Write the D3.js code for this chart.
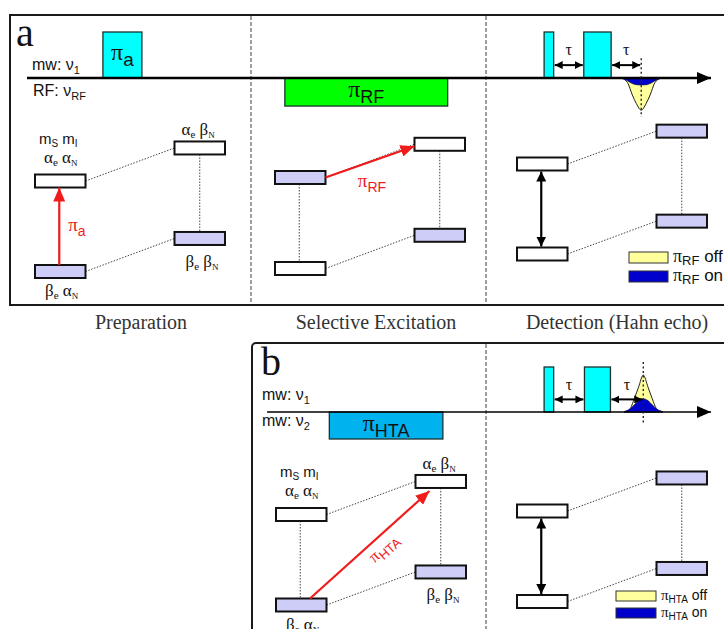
<!DOCTYPE html>
<html>
<head>
<meta charset="utf-8">
<script src="https://cdn.jsdelivr.net/npm/d3@7"></script>
<style>
  body { margin: 0; background: #fff; }
  svg { display: block; }
</style>
</head>
<body>
<svg id="chart" width="724" height="629"></svg>
<script>
// ---- Sequence stages -------------------------------------------------------
const stageNames = ["Preparation", "Selective Excitation", "Detection (Hahn echo)"];

// ---- Spin states: relative energy (0 = βe αN, 1 = αe αN) and column side ----
const states      = ["aa", "ba", "ab", "bb"];          // αeαN, βeαN, αeβN, βeβN
const stateEnergy = [1, 0, 1.365, 0.365];
const stateSide   = [0, 0, 1, 1];

// Populated (shaded) levels per stage, in state order
const populationA = [[0, 1, 0, 1], [1, 0, 0, 1], [0, 0, 1, 1]];
const populationB = [[0, 1, 0, 1], [0, 0, 1, 1]];

// ---- Pulse sequences (time in arbitrary units, amplitude relative to mw) ----
const pulseNameA  = ["a", "RF", "", ""];
const pulseStartA = [11.1, 37.7, 75.6, 81.4];
const pulseEndA   = [16.8, 61.5, 77.0, 85.4];
const pulseAmpA   = [1, -0.61, 1, 1];

const pulseNameB  = ["HTA", "", ""];
const pulseStartB = [44.2, 75.6, 81.5];
const pulseEndB   = [60.8, 77.0, 85.3];
const pulseAmpB   = [-0.6, 1, 1];

// ---- Echo profiles (offset from echo time vs. amplitude) --------------------
const echoOffset = [-2.8, -2, -1.3, -0.7, 0, 0.7, 1.3, 2, 2.8];
const echoTimeA  = 89.8;
const echoOffA   = [-0.01, -0.1, -0.37, -0.56, -0.7, -0.56, -0.37, -0.1, -0.01];
const echoOnA    = [0, -0.06, -0.12, -0.145, -0.15, -0.145, -0.12, -0.06, 0];
const echoTimeB  = 90.1;
const echoOffB   = [0.005, 0.06, 0.3, 0.55, 0.82, 0.55, 0.3, 0.06, 0.005];
const echoOnB    = [0.01, 0.06, 0.16, 0.25, 0.29, 0.25, 0.16, 0.06, 0.01];

// ---- Styling ------------------------------------------------------------------
const SANS  = "'Liberation Sans', Arial, sans-serif";
const SERIF = "'Liberation Serif', 'Times New Roman', serif";
const C = {
  lavender: "#cdcdf7", cyan: "#00ffff", green: "#00ff00", hta: "#00b2ee",
  red: "#f01c1c", yellow: "#ffff9c", blue: "#0000cd", line: "#111"
};

const svg = d3.select("#chart");
svg.append("rect").attr("width", 724).attr("height", 629).attr("fill", "#fff");
const defs = svg.append("defs");

function marker(id, color, w, h) {
  defs.append("marker").attr("id", id)
    .attr("viewBox", `0 0 ${w} ${h}`)
    .attr("refX", w).attr("refY", h / 2)
    .attr("markerWidth", w).attr("markerHeight", h)
    .attr("markerUnits", "userSpaceOnUse")
    .attr("orient", "auto-start-reverse")
    .append("path").attr("d", `M0,0L${w},${h / 2}L0,${h}Z`).attr("fill", color);
}
marker("headRed", C.red, 14, 12);
marker("headBlack", "#000", 10, 10);
marker("headTau", "#000", 8, 8);
marker("headAxis", "#000", 14, 12);

// text made of runs, each with its own size/font and a baseline shift
function rich(sel, x, y, parts, anchor) {
  const t = sel.append("text").attr("x", x).attr("y", y)
    .attr("text-anchor", anchor || "start");
  let cur = 0;
  parts.forEach(p => {
    const shift = p.sub || 0;
    t.append("tspan")
      .attr("dy", shift - cur)
      .attr("font-size", p.size)
      .attr("font-family", p.font || SANS)
      .text(p.t);
    cur = shift;
  });
  return t;
}

const timeX = d3.scaleLinear().domain([0, 100]).range([27, 711]);

// ---- Panels -------------------------------------------------------------------
const panels = [
  { key: "a", frame: [10, 15, 800, 290], rx: 0, letter: [16, 46], lineY: 78, ampPx: 46,
    lineStart: 0, lineW: 2.6, dividers: [251, 486], divY: [16, 304],
    names: pulseNameA, starts: pulseStartA, ends: pulseEndA, amps: pulseAmpA,
    echoT: echoTimeA, echoOff: echoOffA, echoOn: echoOnA, echoLine: [0.43, -0.85],
    channels: [
      { parts: [{ t: "mw: ν", size: 16 }, { t: "1", size: 11, sub: 4 }], x: 32, y: 70 },
      { parts: [{ t: "RF: ν", size: 16 }, { t: "RF", size: 11, sub: 4 }], x: 33, y: 96 }
    ],
    legend: { x: 629, y: [252, 271], w: 39, h: 11, sub: "RF", pi: 18, subSize: 13, word: 17 },
    stages: [
      { col: 0, boxX: 35, lowY: 271.5, upY: 181, left: "none", labels: true },
      { col: 1, boxX: 275, lowY: 268.5, upY: 177.5, left: "dotted" },
      { col: 2, boxX: 517, lowY: 254, upY: 164, left: "double" }
    ],
    population: populationA,
    transitions: [
      { stage: 0, from: "ba", to: "aa", label: "a" },
      { stage: 1, from: "aa", to: "ab", label: "RF" }
    ]
  },
  { key: "b", frame: [252, 343, 600, 400], rx: 4, letter: [261, 375], lineY: 412, ampPx: 45,
    lineStart: 35.1, lineW: 1.6, dividers: [486], divY: [344, 629],
    names: pulseNameB, starts: pulseStartB, ends: pulseEndB, amps: pulseAmpB,
    echoT: echoTimeB, echoOff: echoOffB, echoOn: echoOnB, echoLine: [1.11, -0.29],
    channels: [
      { parts: [{ t: "mw: ν", size: 16 }, { t: "1", size: 11, sub: 4 }], x: 262, y: 400 },
      { parts: [{ t: "mw: ν", size: 16 }, { t: "2", size: 11, sub: 4 }], x: 262, y: 426 }
    ],
    legend: { x: 616, y: [591, 608], w: 40, h: 10, sub: "HTA", pi: 15, subSize: 10, word: 14 },
    stages: [
      { col: 1, boxX: 276, lowY: 605, upY: 514.5, left: "dotted", labels: true },
      { col: 2, boxX: 517, lowY: 601.5, upY: 511, left: "double" }
    ],
    population: populationB,
    transitions: [
      { stage: 0, from: "ba", to: "ab", label: "HTA" }
    ]
  }
];

const BOX_W = 50.5, BOX_H = 13, RIGHT_DX = 139.5;

panels.forEach(P => {
  const g = svg.append("g").attr("class", "panel-" + P.key);
  const amp = d3.scaleLinear().domain([0, 1]).range([P.lineY, P.lineY - P.ampPx]);

  // frame and stage dividers
  g.append("rect")
    .attr("x", P.frame[0]).attr("y", P.frame[1])
    .attr("width", P.frame[2]).attr("height", P.frame[3]).attr("rx", P.rx)
    .attr("fill", "none").attr("stroke", "#1a1a1a").attr("stroke-width", 2);
  P.dividers.forEach(x => {
    g.append("line").attr("x1", x).attr("x2", x)
      .attr("y1", P.divY[0]).attr("y2", P.divY[1])
      .attr("stroke", "#6a6a6a").attr("stroke-width", 1.3)
      .attr("stroke-dasharray", "4,2");
  });

  g.append("text").attr("x", P.letter[0]).attr("y", P.letter[1])
    .attr("font-family", SERIF).attr("font-size", 40).attr("fill", "#111")
    .text(P.key);

  // channel labels
  P.channels.forEach(c => rich(g, c.x, c.y, c.parts).attr("fill", "#111"));

  // pulses
  const pulses = P.names.map((n, i) => ({ name: n, t0: P.starts[i], t1: P.ends[i], a: P.amps[i] }));
  g.selectAll("rect.pulse").data(pulses).join("rect").attr("class", "pulse")
    .attr("x", d => timeX(d.t0))
    .attr("width", d => timeX(d.t1) - timeX(d.t0))
    .attr("y", d => Math.min(amp(d.a), amp(0)))
    .attr("height", d => Math.abs(amp(d.a) - amp(0)))
    .attr("fill", d => d.name === "RF" ? C.green : d.name === "HTA" ? C.hta : C.cyan)
    .attr("stroke", "#1d3030").attr("stroke-width", 1.3);

  pulses.filter(d => d.name).forEach(d => {
    const cx = (timeX(d.t0) + timeX(d.t1)) / 2;
    const cy = (amp(d.a) + amp(0)) / 2;
    const big = d.name === "a";
    rich(g, cx, cy + 5, [
      { t: "π", size: 24, font: SERIF },
      { t: d.name, size: big ? 19 : 18, sub: 6 }
    ], "middle").attr("fill", "#111");
  });

  // echo
  const echoArea = vals => d3.area()
    .x((o, i) => timeX(P.echoT + o))
    .y0(amp(0))
    .y1((o, i) => amp(vals[i]))
    .curve(d3.curveMonotoneX)(echoOffset);
  g.append("path").attr("d", echoArea(P.echoOff))
    .attr("fill", C.yellow).attr("stroke", "#222").attr("stroke-width", 1);
  g.append("path").attr("d", echoArea(P.echoOn))
    .attr("fill", C.blue).attr("stroke", "#0a0a60").attr("stroke-width", 0.8);

  // timeline axis with arrow
  g.append("line")
    .attr("x1", timeX(P.lineStart)).attr("x2", timeX(100))
    .attr("y1", P.lineY).attr("y2", P.lineY)
    .attr("stroke", "#000").attr("stroke-width", P.lineW)
    .attr("marker-end", "url(#headAxis)");

  // echo time marker
  g.append("line")
    .attr("x1", timeX(P.echoT)).attr("x2", timeX(P.echoT))
    .attr("y1", amp(P.echoLine[0])).attr("y2", amp(P.echoLine[1]))
    .attr("stroke", "#222").attr("stroke-width", 1.4).attr("stroke-dasharray", "2,2.5");

  // tau intervals
  const det = pulses.slice(-2);
  const taus = [[det[0].t1, det[1].t0], [det[1].t1, P.echoT]];
  taus.forEach(([a, b]) => {
    g.append("line")
      .attr("x1", timeX(a) + 1).attr("x2", timeX(b) - 1)
      .attr("y1", amp(0.28)).attr("y2", amp(0.28))
      .attr("stroke", "#000").attr("stroke-width", 2)
      .attr("marker-start", "url(#headTau)").attr("marker-end", "url(#headTau)");
    g.append("text").attr("x", (timeX(a) + timeX(b)) / 2).attr("y", amp(0.5))
      .attr("text-anchor", "middle").attr("font-family", SERIF).attr("font-size", 16)
      .attr("fill", "#111").text("τ");
  });

  // energy level diagrams
  P.stages.forEach((S, si) => {
    const sg = g.append("g");
    const yE = d3.scaleLinear().domain([0, 1]).range([S.lowY, S.upY]);
    const bx = i => S.boxX + stateSide[i] * RIGHT_DX;
    const pos = k => {
      const i = states.indexOf(k);
      return { x: bx(i), y: yE(stateEnergy[i]) };
    };
    const dotted = sel => sel.attr("stroke", "#444").attr("stroke-width", 1)
      .attr("stroke-dasharray", "1.5,1.5");

    // same-electron-spin connectors
    [["aa", "ab"], ["ba", "bb"]].forEach(([l, r]) => {
      const a = pos(l), b = pos(r);
      sg.append("line").attr("x1", a.x + BOX_W).attr("y1", a.y)
        .attr("x2", b.x).attr("y2", b.y).call(dotted);
    });
    // right vertical connector
    {
      const a = pos("ab"), b = pos("bb");
      sg.append("line").attr("x1", a.x + BOX_W / 2).attr("x2", a.x + BOX_W / 2)
        .attr("y1", a.y + BOX_H / 2).attr("y2", b.y - BOX_H / 2).call(dotted);
    }
    // left vertical connector
    {
      const a = pos("aa"), b = pos("ba");
      const x = a.x + BOX_W / 2 - 1;
      if (S.left === "dotted") {
        sg.append("line").attr("x1", x).attr("x2", x)
          .attr("y1", a.y + BOX_H / 2).attr("y2", b.y - BOX_H / 2).call(dotted);
      } else if (S.left === "double") {
        sg.append("line").attr("x1", x).attr("x2", x)
          .attr("y1", a.y + BOX_H / 2 + 1).attr("y2", b.y - BOX_H / 2 - 1)
          .attr("stroke", "#000").attr("stroke-width", 2.2)
          .attr("marker-start", "url(#headBlack)").attr("marker-end", "url(#headBlack)");
      }
    }

    // level boxes
    const pop = P.population[si];
    sg.selectAll("rect.level").data(states).join("rect").attr("class", "level")
      .attr("x", (k, i) => bx(i))
      .attr("y", (k, i) => yE(stateEnergy[i]) - BOX_H / 2)
      .attr("width", BOX_W).attr("height", BOX_H)
      .attr("fill", (k, i) => pop[i] ? C.lavender : "#fff")
      .attr("stroke", "#111").attr("stroke-width", 2);

    if (S.labels) {
      const greek = (e1, e2, n2, x, y) => rich(sg, x, y, [
        { t: e1, size: 17, font: SERIF }, { t: "e", size: 11, font: SERIF, sub: 3 },
        { t: " " + e2, size: 17, font: SERIF, sub: 0 }, { t: n2, size: 9, font: SERIF, sub: 3 }
      ]).attr("fill", "#111");
      const aa = pos("aa"), ba = pos("ba"), ab = pos("ab"), bb = pos("bb");
      rich(sg, aa.x + 4, aa.y - BOX_H / 2 - 31, [
        { t: "m", size: 15 }, { t: "S", size: 10, sub: 3 },
        { t: " m", size: 15, sub: 0 }, { t: "I", size: 10, sub: 3 }
      ]).attr("fill", "#111");
      greek("α", "α", "N", aa.x + 9, aa.y - BOX_H / 2 - 12);
      greek("β", "α", "N", ba.x + 10, ba.y + BOX_H / 2 + 18);
      greek("α", "β", "N", ab.x + 7, ab.y - BOX_H / 2 - 6);
      greek("β", "β", "N", bb.x + 11, bb.y + BOX_H / 2 + 22);
    }

    // driven transitions
    P.transitions.filter(t => t.stage === si).forEach(t => {
      const a = pos(t.from), b = pos(t.to);
      const fromIdx = states.indexOf(t.from), toIdx = states.indexOf(t.to);
      let p0, p1;
      if (stateSide[fromIdx] === stateSide[toIdx]) {
        const x = a.x + BOX_W / 2 - 1;
        p0 = [x, a.y - BOX_H / 2]; p1 = [x, b.y + BOX_H / 2];
      } else if (stateEnergy[fromIdx] > stateEnergy[toIdx] - 0.5) {
        p0 = [a.x + BOX_W, a.y]; p1 = [b.x, b.y + 2];
      } else {
        p0 = [a.x + 34, a.y - BOX_H / 2]; p1 = [b.x + 14, b.y + BOX_H / 2 + 3];
      }
      sg.append("line").attr("x1", p0[0]).attr("y1", p0[1])
        .attr("x2", p1[0]).attr("y2", p1[1])
        .attr("stroke", C.red).attr("stroke-width", 2.2)
        .attr("marker-end", "url(#headRed)");

      const mid = [(p0[0] + p1[0]) / 2, (p0[1] + p1[1]) / 2];
      const parts = [{ t: "π", size: 19, font: SERIF }, { t: t.label, size: 14, sub: 5 }];
      if (p0[0] === p1[0]) {
        rich(sg, p0[0] + 9, mid[1] + 5, parts).attr("fill", C.red);
      } else if (Math.abs(p1[1] - p0[1]) < 50) {
        rich(sg, mid[0] + 2, mid[1] + 25, parts, "middle").attr("fill", C.red);
      } else {
        const ang = Math.atan2(p1[1] - p0[1], p1[0] - p0[0]) * 180 / Math.PI;
        const lg = sg.append("g").attr("transform", `translate(${mid[0]},${mid[1]}) rotate(${ang})`);
        rich(lg, 8, 17, [{ t: "π", size: 17, font: SERIF }, { t: t.label, size: 13, sub: 4 }], "middle")
          .attr("fill", C.red);
      }
    });
  });

  // legend for echo traces
  const L = P.legend;
  [[C.yellow, " off"], [C.blue, " on"]].forEach(([fill, word], i) => {
    g.append("rect").attr("x", L.x).attr("y", L.y[i]).attr("width", L.w).attr("height", L.h)
      .attr("fill", fill).attr("stroke", "#333").attr("stroke-width", 1);
    rich(g, L.x + L.w + 5, L.y[i] + L.h / 2 + 4, [
      { t: "π", size: L.pi, font: SERIF }, { t: L.sub, size: L.subSize, sub: 3 },
      { t: word, size: L.word, sub: 0 }
    ]).attr("fill", "#111");
  });
});

// stage captions
const captionX = [141, 376, 617];
svg.append("g").selectAll("text").data(stageNames).join("text")
  .attr("x", (d, i) => captionX[i]).attr("y", 329)
  .attr("text-anchor", "middle")
  .attr("font-family", SERIF).attr("font-size", 20).attr("fill", "#333")
  .text(d => d);
</script>
</body>
</html>
